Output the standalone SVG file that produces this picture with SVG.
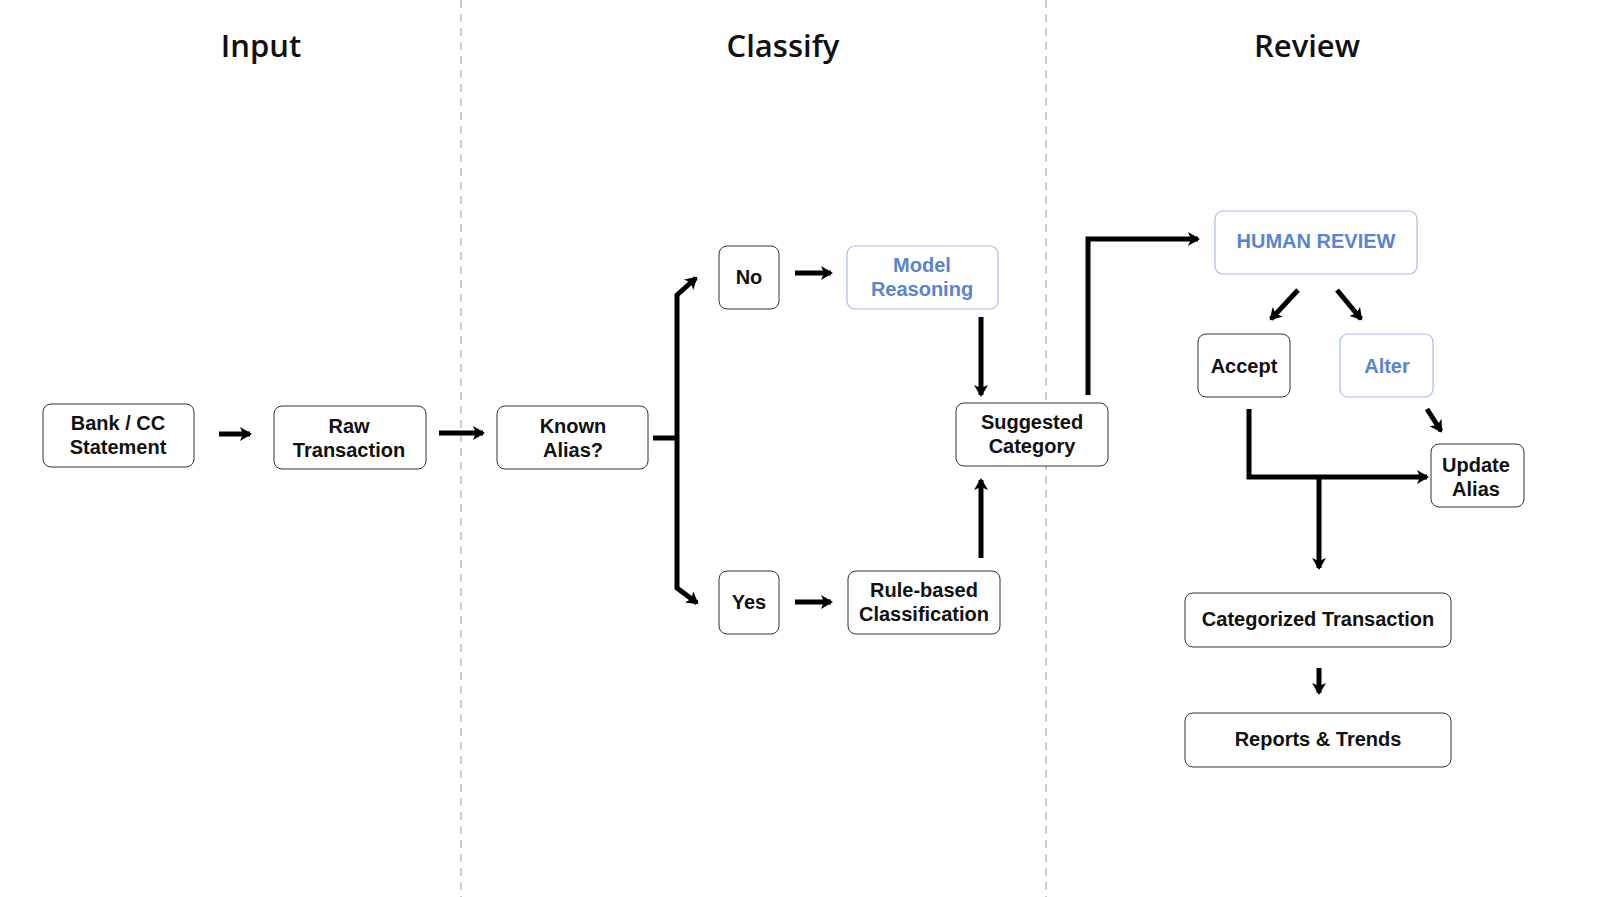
<svg xmlns="http://www.w3.org/2000/svg" width="1600" height="897" viewBox="0 0 1600 897">
<style>
.t{font-family:"Liberation Sans",Arial,sans-serif;font-weight:bold;text-anchor:middle}
.title{font-size:31px;fill:#111;font-weight:600;font-family:"Open Sans","Liberation Sans",sans-serif;text-anchor:middle}
.n rect{fill:#fff;stroke:#333;stroke-width:1}
.b rect{fill:#fff;stroke:#a9bde6;stroke-width:1.2}
.n text{font-size:20px;fill:#111}
.b text{font-size:20px;fill:#5b84d0}
.c{fill:none;stroke:#000;stroke-width:5;marker-end:url(#ah)}
.div{stroke:#ccc;stroke-width:2;stroke-dasharray:8 6}
</style>
<defs>
<marker id="ah" markerUnits="userSpaceOnUse" markerWidth="12" markerHeight="14" refX="10" refY="7" orient="auto">
<path d="M0,0 L12,7 L0,14 L3,7 Z" fill="#000"/>
</marker>
</defs>
<rect width="1600" height="897" fill="#fff"/>
<line class="div" x1="461" y1="0" x2="461" y2="897"/>
<line class="div" x1="1046" y1="0" x2="1046" y2="897"/>
<text class="title" x="261" y="57">Input</text>
<text class="title" x="783" y="57">Classify</text>
<text class="title" x="1307" y="57">Review</text>

<g id="bank" class="n"><rect x="43" y="404" width="151" height="63" rx="8"/><text class="t" x="118" y="430">Bank / CC</text><text class="t" x="118" y="454">Statement</text></g>
<g id="raw" class="n"><rect x="274" y="406" width="152" height="63" rx="8"/><text class="t" x="349" y="433">Raw</text><text class="t" x="349" y="457">Transaction</text></g>
<g id="known" class="n"><rect x="497" y="406" width="151" height="63" rx="8"/><text class="t" x="573" y="433">Known</text><text class="t" x="573" y="457">Alias?</text></g>
<g id="no" class="n"><rect x="719" y="246" width="60" height="63" rx="8"/><text class="t" x="749" y="284">No</text></g>
<g id="yes" class="n"><rect x="719" y="571" width="60" height="63" rx="8"/><text class="t" x="749" y="609">Yes</text></g>
<g id="model" class="b"><rect x="847" y="246" width="151" height="63" rx="8"/><text class="t" x="922" y="272">Model</text><text class="t" x="922" y="296">Reasoning</text></g>
<g id="rule" class="n"><rect x="848" y="571" width="152" height="63" rx="8"/><text class="t" x="924" y="597">Rule-based</text><text class="t" x="924" y="621">Classification</text></g>
<g id="suggested" class="n"><rect x="956" y="403" width="152" height="63" rx="8"/><text class="t" x="1032" y="429">Suggested</text><text class="t" x="1032" y="453">Category</text></g>
<g id="human" class="b"><rect x="1215" y="211" width="202" height="63" rx="8"/><text class="t" x="1316" y="248">HUMAN REVIEW</text></g>
<g id="accept" class="n"><rect x="1198" y="334" width="92" height="63" rx="8"/><text class="t" x="1244" y="373">Accept</text></g>
<g id="alter" class="b"><rect x="1340" y="334" width="93" height="63" rx="8"/><text class="t" x="1387" y="373">Alter</text></g>
<g id="update" class="n"><rect x="1431" y="444" width="93" height="63" rx="8"/><text class="t" x="1476" y="472">Update</text><text class="t" x="1476" y="496">Alias</text></g>
<g id="categorized" class="n"><rect x="1185" y="593" width="266" height="54" rx="8"/><text class="t" x="1318" y="626">Categorized Transaction</text></g>
<g id="reports" class="n"><rect x="1185" y="713" width="266" height="54" rx="8"/><text class="t" x="1318" y="746">Reports &amp; Trends</text></g>

<g id="connectors">
<path class="c" d="M219,434 H250"/>
<path class="c" d="M439,433 H483"/>
<path d="M653,438 H677" stroke="#000" stroke-width="5"/>
<path class="c" d="M677,438 V295 L696,278"/>
<path class="c" d="M677,438 V588 L697,603"/>
<path class="c" d="M795,273 H831"/>
<path class="c" d="M795,602 H831"/>
<path class="c" d="M981,317 V395"/>
<path class="c" d="M981,558 V480"/>
<path class="c" d="M1088,395 V239 H1198"/>
<path class="c" d="M1298,290 L1271,319"/>
<path class="c" d="M1337,290 L1361,319"/>
<path class="c" d="M1427,409 L1441,431"/>
<path class="c" d="M1249,409 V477 H1427"/>
<path class="c" d="M1319,477 V568"/>
<path class="c" d="M1319,668 V693"/>
</g>
</svg>
